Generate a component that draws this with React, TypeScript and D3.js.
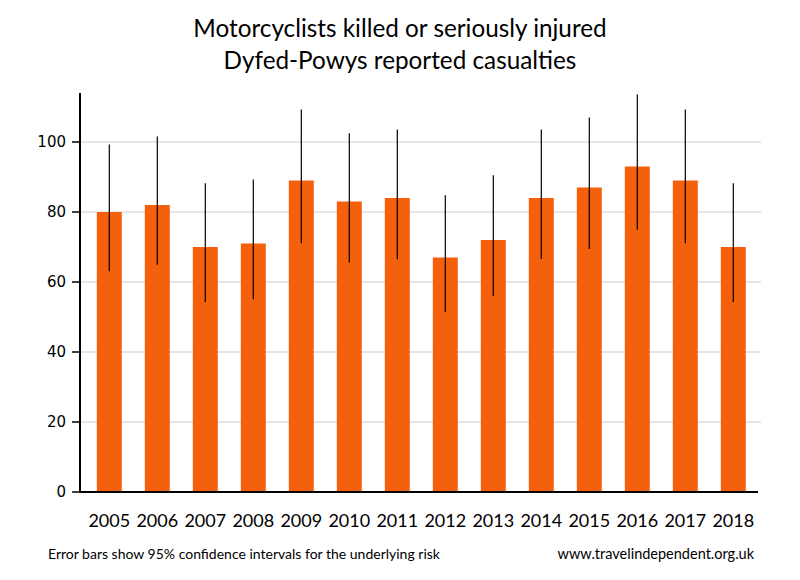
import React from 'react';
import * as d3 from 'd3';

const years = ['2005', '2006', '2007', '2008', '2009', '2010', '2011', '2012', '2013', '2014', '2015', '2016', '2017', '2018'];
const values = [80, 82, 70, 71, 89, 83, 84, 67, 72, 84, 87, 93, 89, 70];
const lower = [63.1, 64.9, 54.3, 55.1, 71.1, 65.6, 66.5, 51.4, 56, 66.6, 69.4, 74.9, 71.1, 54.3];
const upper = [99.3, 101.6, 88.2, 89.3, 109.3, 102.5, 103.6, 84.8, 90.5, 103.6, 107, 113.6, 109.3, 88.2];
const yTicks = [0, 20, 40, 60, 80, 100];
const titleLines = ['Motorcyclists killed or seriously injured', 'Dyfed-Powys reported casualties'];
const footLeft = 'Error bars show 95% confidence intervals for the underlying risk';
const footRight = 'www.travelindependent.org.uk';

const W = 800;
const H = 580;
const axisX = 80;
const plotRight = 758;
const gridRight = 761;
const plotTop = 93;
const plotBottom = 492;
const orange = '#f5600c';
const titleFont = 'Lato, "Open Sans", sans-serif';

export default function App() {
  const x = d3
    .scaleBand<string>()
    .domain(years)
    .range([85.3, 757.3])
    .paddingInner(0.48)
    .paddingOuter(0.24);
  const y = d3.scaleLinear().domain([0, 114]).range([plotBottom, plotTop]);

  return (
    <svg
      width={W}
      height={H}
      style={{ position: 'absolute', left: 0, top: 0, background: '#fff' }}
    >
      <rect x={0} y={0} width={W} height={H} fill="#fff" />
      {titleLines.map((t, i) => (
        <text
          key={t}
          x={400}
          y={37 + i * 32}
          textAnchor="middle"
          fontFamily={titleFont}
          fontSize={24.3}
          fill="#000"
        >
          {t}
        </text>
      ))}
      {/* gridlines */}
      {yTicks.filter((t) => t > 0).map((t) => (
        <line key={'g' + t} x1={axisX} x2={gridRight} y1={y(t)} y2={y(t)} stroke="#e6e6e6" strokeWidth={2} />
      ))}
      {/* bars */}
      {years.map((yr, i) => (
        <rect
          key={'b' + yr}
          x={x(yr)}
          y={y(values[i])}
          width={x.bandwidth()}
          height={y(0) - y(values[i])}
          fill={orange}
        />
      ))}
      {/* error bars */}
      {years.map((yr, i) => (
        <line
          key={'e' + yr}
          x1={(x(yr) as number) + x.bandwidth() / 2}
          x2={(x(yr) as number) + x.bandwidth() / 2}
          y1={y(lower[i])}
          y2={y(upper[i])}
          stroke="#000"
          strokeWidth={1.2}
        />
      ))}
      {/* axes */}
      <line x1={axisX} x2={axisX} y1={plotTop} y2={plotBottom + 1} stroke="#000" strokeWidth={2} />
      <line x1={axisX - 1} x2={plotRight} y1={plotBottom} y2={plotBottom} stroke="#000" strokeWidth={2} />
      {yTicks.map((t) => (
        <g key={'t' + t}>
          <line x1={axisX - 8} x2={axisX} y1={y(t)} y2={y(t)} stroke="#000" strokeWidth={1.5} />
          <text
            x={66}
            y={y(t)}
            dy="0.36em"
            textAnchor="end"
            fontFamily='"DejaVu Sans", Verdana, sans-serif'
            fontSize={15}
            fill="#000"
          >
            {t}
          </text>
        </g>
      ))}
      {years.map((yr) => (
        <text
          key={'x' + yr}
          x={(x(yr) as number) + x.bandwidth() / 2}
          y={527}
          textAnchor="middle"
          fontFamily={titleFont}
          fontSize={18}
          fill="#000"
        >
          {yr}
        </text>
      ))}
      <text x={48} y={559} fontFamily={titleFont} fontSize={14} fill="#000">
        {footLeft}
      </text>
      <text x={754} y={559} textAnchor="end" fontFamily={titleFont} fontSize={14.5} fill="#000">
        {footRight}
      </text>
    </svg>
  );
}
